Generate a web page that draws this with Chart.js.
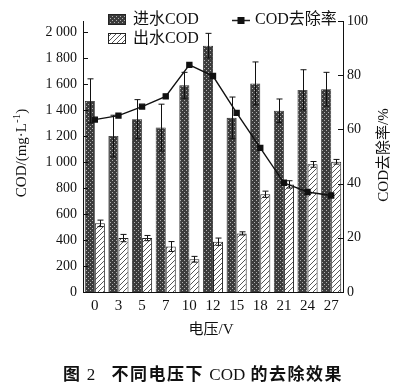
<!DOCTYPE html>
<html>
<head>
<meta charset="utf-8">
<script src="https://cdn.jsdelivr.net/npm/chart.js@4/dist/chart.umd.min.js"></script>
<style>
  html, body { margin: 0; padding: 0; background: #fff; }
  #wrap { position: relative; width: 413px; height: 386px; }
  #caption {
    position: absolute; left: 63px; top: 360px; white-space: nowrap;
    font: bold 17px "Noto Sans CJK SC", sans-serif; color: #111; letter-spacing: 1.5px;
  }
  #caption .lat { font-family: "Liberation Serif", serif; font-weight: normal; letter-spacing: 0; }
</style>
</head>
<body>
<div id="wrap">
  <canvas id="chart" width="413" height="386"></canvas>
  <div id="caption">图 <span class="lat">2</span>&nbsp;&nbsp;&nbsp;不同电压下 <span class="lat">COD</span> 的去除效果</div>
</div>
<script>
// ── Data ──────────────────────────────────────────────────────
const voltages     = ["0", "3", "5", "7", "10", "12", "15", "18", "21", "24", "27"];
const influent     = [1470, 1200, 1330, 1265, 1590, 1895, 1340, 1605, 1395, 1555, 1560];
const influentErr  = [170, 160, 150, 180, 100, 95, 160, 165, 90, 155, 130];
const effluent     = [528, 415, 415, 350, 252, 387, 451, 752, 828, 982, 1002];
const effluentErr  = [25, 28, 20, 38, 22, 28, 12, 24, 28, 22, 18];
const removal      = [63.6, 65.1, 68.4, 72.2, 83.8, 79.7, 66.1, 53.2, 40.3, 36.9, 35.6];
const codTicks     = [0, 200, 400, 600, 800, 1000, 1200, 1400, 1600, 1800, 2000];
const rateTicks    = [0, 20, 40, 60, 80, 100];

const SERIF = "'Liberation Serif', 'Noto Sans CJK SC', serif";

// ── Fill patterns ─────────────────────────────────────────────
function dotPattern() {
  const c = document.createElement("canvas");
  c.width = 4; c.height = 4;
  const g = c.getContext("2d");
  g.fillStyle = "#3c3c3c"; g.fillRect(0, 0, 4, 4);
  g.fillStyle = "rgba(255,255,255,.6)";
  g.fillRect(0, 0, 1, 1); g.fillRect(2, 2, 1, 1);
  return g.createPattern(c, "repeat");
}
function hatchPattern() {
  const c = document.createElement("canvas");
  c.width = 5; c.height = 5;
  const g = c.getContext("2d");
  g.fillStyle = "#fff"; g.fillRect(0, 0, 5, 5);
  g.strokeStyle = "#444"; g.lineWidth = 0.9;
  g.beginPath();
  g.moveTo(-1, 6); g.lineTo(6, -1);
  g.moveTo(-1, 1); g.lineTo(1, -1);
  g.moveTo(4, 6); g.lineTo(6, 4);
  g.stroke();
  return g.createPattern(c, "repeat");
}
const DOTS = dotPattern();
const HATCH = hatchPattern();

const fmtCod = (v) => v >= 1000 ? `${Math.floor(v / 1000)} ${String(v % 1000).padStart(3, "0")}` : String(v);

// ── Error bars, drawn after each bar dataset ─────────────────
const errorBars = {
  id: "errorBars",
  afterDatasetDraw(chart, args) {
    const errs = [influentErr, effluentErr][args.index - 1];
    if (!errs) return;
    const vals = chart.data.datasets[args.index].data;
    const y = chart.scales.y;
    const ctx = chart.ctx;
    ctx.save();
    ctx.strokeStyle = "#111"; ctx.lineWidth = 1;
    args.meta.data.forEach((bar, i) => {
      const x = Math.round(bar.x) + 0.5;
      const top = y.getPixelForValue(vals[i] + errs[i]);
      const bot = y.getPixelForValue(vals[i] - errs[i]);
      ctx.beginPath();
      ctx.moveTo(x, top); ctx.lineTo(x, bot);
      ctx.moveTo(x - 3, top); ctx.lineTo(x + 3, top);
      ctx.moveTo(x - 3, bot); ctx.lineTo(x + 3, bot);
      ctx.stroke();
    });
    ctx.restore();
  },
};

// ── Inward tick marks, axis titles, legend ────────────────────
const decorations = {
  id: "decorations",
  afterDraw(chart) {
    const ctx = chart.ctx;
    const { y, y1 } = chart.scales;
    const a = chart.chartArea;
    ctx.save();
    ctx.strokeStyle = "#111"; ctx.lineWidth = 1;
    ctx.beginPath();
    codTicks.forEach((v) => {
      const py = Math.round(y.getPixelForValue(v)) + 0.5;
      ctx.moveTo(a.left, py); ctx.lineTo(a.left + 5, py);
    });
    rateTicks.forEach((v) => {
      const py = Math.round(y1.getPixelForValue(v)) + 0.5;
      ctx.moveTo(a.right, py); ctx.lineTo(a.right - 5, py);
    });
    ctx.stroke();

    ctx.fillStyle = "#111";
    ctx.textBaseline = "middle";

    // left title
    ctx.save();
    ctx.translate(22, 153);
    ctx.rotate(-Math.PI / 2);
    const t1 = "COD/(mg·L", t2 = ")";
    ctx.font = `11px ${SERIF}`;
    const wSup = ctx.measureText("-1").width;
    ctx.font = `15px ${SERIF}`;
    const w1 = ctx.measureText(t1).width, w2 = ctx.measureText(t2).width;
    const x0 = -(w1 + wSup + w2) / 2;
    ctx.textAlign = "left";
    ctx.fillText(t1, x0, 0);
    ctx.font = `11px ${SERIF}`;
    ctx.fillText("-1", x0 + w1, -5);
    ctx.font = `15px ${SERIF}`;
    ctx.fillText(t2, x0 + w1 + wSup, 0);
    ctx.restore();

    // right title
    ctx.save();
    ctx.translate(384, 155);
    ctx.rotate(-Math.PI / 2);
    ctx.font = `15px ${SERIF}`;
    ctx.textAlign = "center";
    ctx.fillText("COD去除率/%", 0, 0);
    ctx.restore();

    // x title
    ctx.font = `15px ${SERIF}`;
    ctx.textAlign = "center";
    ctx.fillText("电压/V", 211, 330);

    // legend
    ctx.textAlign = "left";
    ctx.font = `16px ${SERIF}`;
    const swatch = (fill, x, yy) => {
      ctx.fillStyle = fill; ctx.fillRect(x, yy, 18, 11);
      ctx.strokeStyle = "#222"; ctx.strokeRect(x + 0.5, yy + 0.5, 17, 10);
    };
    swatch(DOTS, 108, 14);
    swatch(HATCH, 108, 33);
    ctx.fillStyle = "#111";
    ctx.fillText("进水COD", 133, 20);
    ctx.fillText("出水COD", 133, 39);
    ctx.beginPath();
    ctx.lineWidth = 1.5;
    ctx.moveTo(232, 20.5); ctx.lineTo(250, 20.5);
    ctx.stroke();
    ctx.fillRect(237.5, 17, 7, 7);
    ctx.fillText("COD去除率", 255, 20);
    ctx.restore();
  },
};

new Chart(document.getElementById("chart"), {
  type: "bar",
  data: {
    labels: voltages,
    datasets: [
      {
        type: "line", label: "COD去除率", data: removal, yAxisID: "y1", order: 0,
        borderColor: "#111", backgroundColor: "#111", borderWidth: 1.4,
        pointStyle: "rect", pointRadius: 3.5, tension: 0,
      },
      {
        label: "进水COD", data: influent, yAxisID: "y", order: 1,
        backgroundColor: DOTS, borderColor: "#222", borderWidth: 0.8,
      },
      {
        label: "出水COD", data: effluent, yAxisID: "y", order: 1,
        backgroundColor: HATCH, borderColor: "#222", borderWidth: 1,
      },
    ],
  },
  options: {
    responsive: false,
    animation: false,
    layout: { padding: { top: 21, left: 0, right: 0, bottom: 0 } },
    datasets: { bar: { categoryPercentage: 0.85, barPercentage: 1 } },
    plugins: { legend: { display: false }, tooltip: { enabled: false } },
    scales: {
      x: {
        offset: true,
        grid: { display: false, drawTicks: false },
        border: { display: true, color: "#111", width: 1 },
        ticks: { padding: 5, color: "#111", font: { family: SERIF, size: 15 }, maxRotation: 0, autoSkip: false },
        afterFit: (s) => { s.height = 94; },
      },
      y: {
        position: "left", min: 0, max: 2085,
        grid: { display: false, drawTicks: false },
        border: { display: true, color: "#111", width: 1 },
        ticks: { padding: 6, color: "#111", font: { family: SERIF, size: 14 }, callback: (v) => fmtCod(v) },
        afterBuildTicks: (s) => { s.ticks = codTicks.map((v) => ({ value: v })); },
        afterFit: (s) => { s.width = 83; },
      },
      y1: {
        position: "right", min: 0, max: 100,
        grid: { display: false, drawTicks: false },
        border: { display: true, color: "#111", width: 1 },
        ticks: { padding: 4, color: "#111", font: { family: SERIF, size: 14 } },
        afterBuildTicks: (s) => { s.ticks = rateTicks.map((v) => ({ value: v })); },
        afterFit: (s) => { s.width = 70; },
      },
    },
  },
  plugins: [errorBars, decorations],
});
</script>
</body>
</html>
